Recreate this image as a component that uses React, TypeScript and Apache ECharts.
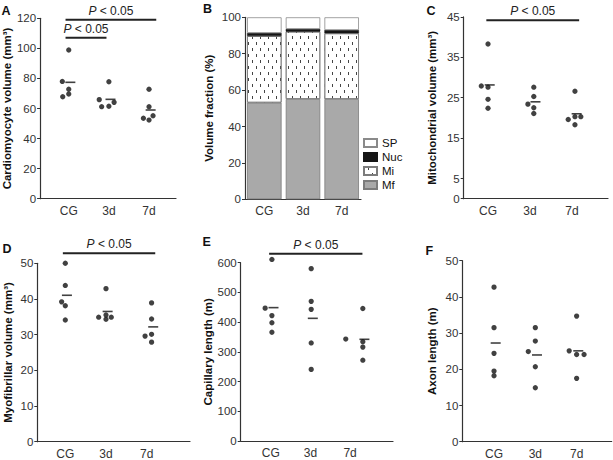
import React, { useEffect, useRef } from 'react';
import * as echarts from 'echarts';

// ---------- data ----------
const categories = ['CG', '3d', '7d'];

// A: cardiomyocyte volume
const cardioCG = [98.9, 78.0, 72.8, 69.6, 67.8];
const cardio3d = [77.8, 65.9, 64.1, 61.5, 61.2];
const cardio7d = [72.8, 61.2, 55.2, 53.5, 52.3];
const cardioJitter = [[0, -0.16, 0, 0, -0.15], [0, -0.24, 0.13, 0, -0.18], [0, 0, 0.1, -0.14, 0]];

// B: volume fraction (%)
const fracMf = [53.1, 55.1, 55.1];
const fracMi = [36.6, 37.0, 36.1];
const fracNuc = [1.7, 1.5, 1.8];
const fracSP = [8.6, 6.4, 7.0];

// C: mitochondrial volume
const mitoCG = [38.3, 27.9, 27.6, 24.6, 22.4];
const mito3d = [27.6, 25.3, 23.4, 22.5, 21.1];
const mito7d = [26.6, 19.6, 20.3, 20.3, 18.3];
const mitoJitter = [[0, -0.16, 0, 0, 0], [0.09, 0.09, -0.05, 0.09, 0.09], [0.07, -0.09, 0.07, 0.21, 0.07]];

// D: myofibrillar volume
const myoCG = [50.0, 43.8, 39.2, 38.1, 34.1];
const myo3d = [42.9, 34.9, 35.5, 34.3, 34.9];
const myo7d = [38.9, 34.4, 30.1, 29.6, 27.9];
const myoJitter = [[0, 0, -0.09, 0, 0], [0, -0.18, 0, 0, 0.13], [0.12, 0.12, 0.12, -0.04, 0.12]];

// E: capillary length
const capCG = [611, 447, 422, 398, 366];
const cap3d = [580, 470, 443, 330, 241];
const cap7d = [446, 343, 334, 316, 272];
const capJitter = [[0.03, -0.14, 0.03, 0.03, 0.03], [0.02, 0.02, 0.02, 0.02, 0.02], [0.32, -0.11, 0.32, 0.32, 0.32]];

// F: axon length
const axonCG = [42.7, 31.5, 24.4, 19.5, 18.2];
const axon3d = [31.5, 27.8, 24.9, 20.7, 14.9];
const axon7d = [34.7, 25.1, 24.1, 24.1, 17.5];
const axonJitter = [[0, 0, 0, 0, 0], [0, 0, -0.17, 0, 0], [0, -0.18, 0, 0.18, 0]];

// tick labels
const yTicksA = [0, 20, 40, 60, 80, 100, 120];
const yTicksB = [0, 20, 40, 60, 80, 100];
const yTicksC = [0, 5, 15, 25, 35, 45];
const yTicksD = [0, 10, 20, 30, 40, 50];
const yTicksE = [0, 100, 200, 300, 400, 500, 600];
const yTicksF = [0, 10, 20, 30, 40, 50];

// significance brackets: [xStart, xEnd, y] in axis units
const sigText = '{i|P} < 0.05';
const sigA = [[0.92, 3.18, 119], [0.92, 1.94, 107]];
const sigC = [[0.96, 3.17, 44.2]];
const sigD = [[0.94, 3.21, 52.8]];
const sigE = [[0.96, 3.31, 630]];

// ---------- layout / style ----------
const FONT = '"Liberation Sans", Arial, Helvetica, sans-serif';
const INK = '#111';
const AXIS = '#333';

const scatterPanels = [
  { gi: 0, name: 'Cardiomyocyte volume (mm³)', groups: [cardioCG, cardio3d, cardio7d], jitter: cardioJitter, ticks: yTicksA, sig: sigA,
    grid: { left: 37.5, top: 18.3, width: 138.5, height: 180.4 }, xr: [0.286, 3.672], nameGap: 23 },
  { gi: 2, name: 'Mitochondrial volume (mm³)', groups: [mitoCG, mito3d, mito7d], jitter: mitoJitter, ticks: yTicksC, sig: sigC,
    grid: { left: 463.7, top: 16.9, width: 144.3, height: 181.8 }, xr: [0.421, 3.857], nameGap: 26 },
  { gi: 3, name: 'Myofibrillar volume (mm³)', groups: [myoCG, myo3d, myo7d], jitter: myoJitter, ticks: yTicksD, sig: sigD,
    grid: { left: 37.3, top: 263.3, width: 152.7, height: 178.4 }, xr: [0.312, 4.064], nameGap: 23.5 },
  { gi: 4, name: 'Capillary length (m)', groups: [capCG, cap3d, cap7d], jitter: capJitter, ticks: yTicksE, sig: sigE,
    grid: { left: 240.7, top: 262.7, width: 152.3, height: 178.3 }, xr: [0.244, 4.08], nameGap: 27 },
  { gi: 5, name: 'Axon length (m)', groups: [axonCG, axon3d, axon7d], jitter: axonJitter, ticks: yTicksF, sig: [] as number[][],
    grid: { left: 462.3, top: 260.7, width: 149.4, height: 181 }, xr: [0.232, 3.849], nameGap: 24.5 },
];
const gridB = { left: 245, top: 17.3, width: 116, height: 182 };

const letters = [
  { t: 'A', x: 1.5, y: 4 }, { t: 'B', x: 203, y: 2 }, { t: 'C', x: 426.5, y: 4 },
  { t: 'D', x: 2.5, y: 242.5 }, { t: 'E', x: 202.5, y: 235 }, { t: 'F', x: 425.5, y: 244 },
];

const mean = (a: number[]) => a.reduce((s, v) => s + v, 0) / a.length;
const median = (a: number[]) => { const s = [...a].sort((p, q) => p - q); return s[Math.floor(s.length / 2)]; };

function yAxisOf(gi: number, ticks: number[], name: string, nameGap: number) {
  return {
    type: 'value', gridIndex: gi, min: ticks[0], max: ticks[ticks.length - 1],
    axisLine: { show: true, lineStyle: { color: AXIS, width: 1.2 } },
    axisTick: { show: true, length: 3, inside: false, lineStyle: { color: AXIS, width: 1 }, customValues: ticks },
    axisLabel: { customValues: ticks, fontSize: 11.5, color: '#333', margin: 4, fontFamily: FONT },
    splitLine: { show: false },
    name, nameLocation: 'middle', nameGap,
    nameTextStyle: { fontWeight: 'bold', fontSize: 11.5, color: INK, fontFamily: FONT },
  };
}

export default function App() {
  const ref = useRef<HTMLDivElement>(null);
  useEffect(() => {
    if (!ref.current) return;
    const chart = echarts.init(ref.current, undefined, { renderer: 'svg' });

    const grids: any[] = [];
    const xAxes: any[] = [];
    const yAxes: any[] = [];
    const series: any[] = [];
    for (let i = 0; i < 6; i++) { grids.push(null); xAxes.push(null); yAxes.push(null); }

    scatterPanels.forEach((p) => {
      grids[p.gi] = { ...p.grid, containLabel: false };
      xAxes[p.gi] = {
        type: 'value', gridIndex: p.gi, min: p.xr[0], max: p.xr[1],
        axisLine: { show: true, onZero: false, lineStyle: { color: AXIS, width: 1.2 } },
        axisTick: { show: false },
        axisLabel: {
          customValues: [1, 2, 3], margin: 6, fontSize: 12, color: '#333', fontFamily: FONT,
          formatter: (v: number) => categories[Math.round(v) - 1] ?? '',
        },
        splitLine: { show: false },
      };
      yAxes[p.gi] = yAxisOf(p.gi, p.ticks, p.name, p.nameGap);
      const dots: number[][] = [];
      p.groups.forEach((vals, g) => vals.forEach((v, k) => dots.push([g + 1 + p.jitter[g][k], v])));
      series.push({
        type: 'scatter', xAxisIndex: p.gi, yAxisIndex: p.gi, data: dots, symbolSize: 5.3,
        itemStyle: { color: INK }, silent: true, clip: false,
      });
      series.push({
        type: 'scatter', xAxisIndex: p.gi, yAxisIndex: p.gi,
        data: p.groups.map((vals, g) => [g + 1 + median(p.jitter[g]) + 0.04, mean(vals)]),
        symbol: 'rect', symbolSize: [10, 1.6], itemStyle: { color: INK }, silent: true, clip: false,
      });
    });

    // panel B
    grids[1] = { ...gridB, containLabel: false };
    xAxes[1] = {
      type: 'category', gridIndex: 1, data: categories,
      axisLine: { show: true, lineStyle: { color: AXIS, width: 1.2 } },
      axisTick: { show: false },
      axisLabel: { margin: 6, fontSize: 12, color: '#333', fontFamily: FONT },
    };
    yAxes[1] = { ...yAxisOf(1, yTicksB, 'Volume fraction (%)', 30), interval: 20 };
    const barBase = { type: 'bar', xAxisIndex: 1, yAxisIndex: 1, stack: 'vf', barWidth: 34.5, silent: true };
    series.push({ ...barBase, name: 'Mf', data: fracMf, itemStyle: { color: '#a9a9a9', borderColor: '#7c7c7c', borderWidth: 0.8 } });
    series.push({
      ...barBase, name: 'Mi', data: fracMi,
      itemStyle: {
        color: '#ffffff', borderColor: '#7c7c7c', borderWidth: 0.8,
        decal: {
          symbol: 'rect', symbolSize: 1, symbolKeepAspect: false, color: '#444', backgroundColor: '#ffffff',
          dashArrayX: [[1, 7], [0, 4, 1, 3]], dashArrayY: [3, 2.6], rotation: 0,
        },
      },
    });
    series.push({ ...barBase, name: 'Nuc', data: fracNuc, itemStyle: { color: '#161616', borderColor: '#161616', borderWidth: 0.5 } });
    series.push({ ...barBase, name: 'SP', data: fracSP, itemStyle: { color: '#ffffff', borderColor: '#8a8a8a', borderWidth: 0.8 } });

    chart.setOption({
      animation: false,
      textStyle: { fontFamily: FONT },
      grid: grids,
      xAxis: xAxes,
      yAxis: yAxes,
      legend: {
        data: ['SP', 'Nuc', 'Mi', 'Mf'], orient: 'vertical', left: 358, top: 132,
        itemWidth: 13, itemHeight: 8, itemGap: 2, icon: 'rect', selectedMode: false,
        textStyle: { fontSize: 11.5, color: INK, fontFamily: FONT },
      },
      series,
    });

    // annotations: panel letters and significance brackets
    const graphics: any[] = [];
    letters.forEach((l) => graphics.push({
      type: 'text', x: l.x, y: l.y, silent: true,
      style: { text: l.t, fontSize: 12.5, fontWeight: 'bold', fill: '#111', fontFamily: FONT, align: 'left', verticalAlign: 'top' },
    }));
    scatterPanels.forEach((p) => {
      p.sig.forEach(([x1, x2, y]) => {
        const a = chart.convertToPixel({ gridIndex: p.gi }, [x1, y]) as number[];
        const b = chart.convertToPixel({ gridIndex: p.gi }, [x2, y]) as number[];
        if (!a || !b) return;
        graphics.push({
          type: 'line', silent: true,
          shape: { x1: a[0], y1: a[1], x2: b[0], y2: b[1] },
          style: { stroke: '#222', lineWidth: 2 },
        });
        graphics.push({
          type: 'text', silent: true, x: (a[0] + b[0]) / 2, y: a[1] - 3,
          style: {
            text: sigText, fontSize: 12, fill: '#222', fontFamily: FONT, align: 'center', verticalAlign: 'bottom',
            rich: { i: { fontStyle: 'italic', fontSize: 12, fill: '#222', fontFamily: FONT } },
          },
        });
      });
    });
    chart.setOption({ graphic: graphics });

    return () => chart.dispose();
  }, []);
  return <div ref={ref} style={{ position: 'absolute', left: 0, top: 0, width: 613, height: 460, background: '#fff' }} />;
}
